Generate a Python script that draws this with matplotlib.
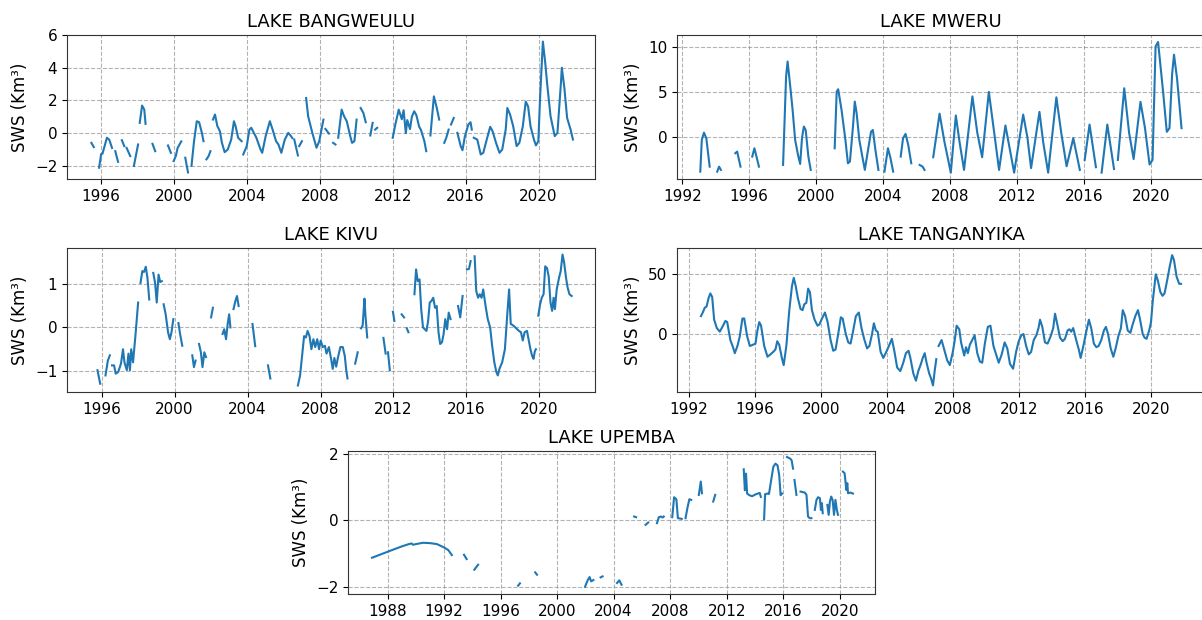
import numpy as np
import matplotlib
matplotlib.use("Agg")
import matplotlib.pyplot as plt

nan = np.nan

# Storage anomaly segments per lake: list of (year, SWS km3) pieces; gaps between pieces
bangweulu = [
    [(1995.47, -0.59), (1995.6, -0.85)],
    [(1995.89, -2.11), (1996.0, -1.3)],
    [(1996.08, -1.24), (1996.32, -0.28), (1996.45, -0.4), (1996.6, -0.9)],
    [(1996.78, -1.1), (1996.93, -1.75)],
    [(1997.14, -0.43), (1997.27, -0.79)],
    [(1997.4, -0.9), (1997.6, -1.4)],
    [(1997.8, -2.0), (1998.03, -0.69)],
    [(1998.12, 0.63), (1998.25, 1.69), (1998.37, 1.44), (1998.44, 0.57)],
    [(1998.82, -0.65), (1998.97, -1.1)],
    [(1999.67, -0.75), (1999.83, -1.2)],
    [(1999.98, -1.7), (2000.1, -1.4), (2000.2, -0.9), (2000.3, -0.7), (2000.4, -0.5)],
    [(2000.62, -1.5), (2000.77, -2.4)],
    [(2000.96, -2.0), (2001.1, -0.49), (2001.25, 0.73), (2001.38, 0.67), (2001.53, 0.02), (2001.62, -0.49)],
    [(2001.78, -1.6), (2001.9, -1.4), (2002.0, -1.1)],
    [(2002.14, 0.83), (2002.25, 1.14), (2002.38, 0.43), (2002.52, 0.12), (2002.63, -0.59), (2002.78, -1.16),
     (2002.95, -1.0), (2003.14, -0.39), (2003.29, 0.73), (2003.38, 0.43), (2003.52, -0.28), (2003.71, -0.49)],
    [(2003.8, -1.3), (2003.99, -0.79), (2004.14, 0.22), (2004.24, 0.33), (2004.52, -0.28), (2004.75, -1.0),
     (2004.84, -1.2), (2005.03, -0.18), (2005.26, 0.73), (2005.41, 0.22), (2005.6, -0.49), (2005.73, -0.69),
     (2005.89, -1.2), (2006.08, -0.39), (2006.27, 0.02), (2006.42, -0.18), (2006.49, -0.3)],
    [(2006.6, -0.39), (2006.8, -1.36)],
    [(2006.87, -0.79), (2007.02, -0.49)],
    [(2007.25, 2.15), (2007.36, 1.04), (2007.59, 0.02), (2007.82, -0.89), (2007.97, -0.49), (2008.2, 0.83)],
    [(2008.31, 0.26), (2008.5, -0.02)],
    [(2008.73, -0.59), (2008.86, -0.69)],
    [(2009.01, -0.28), (2009.2, 1.44), (2009.33, 1.04), (2009.48, 0.73), (2009.67, -0.18), (2009.77, -0.59),
     (2009.9, -0.49), (2010.02, 0.83)],
    [(2010.24, 1.54), (2010.39, 1.24), (2010.52, 0.67)],
    [(2010.77, -0.14), (2010.9, 0.63)],
    [(2011.04, 0.22), (2011.15, 0.33)],
    [(2012.0, -0.28), (2012.14, 0.5), (2012.33, 1.44), (2012.5, 0.85), (2012.6, 1.4), (2012.72, 0.0),
     (2012.8, 0.8), (2012.95, 0.25), (2013.05, 1.0), (2013.18, 1.34), (2013.3, 1.1), (2013.45, 0.4),
     (2013.55, 0.2), (2013.74, -0.5), (2013.84, -1.1)],
    [(2014.07, -0.14), (2014.26, 2.25), (2014.42, 1.54), (2014.55, 0.83)],
    [(2014.83, -0.59), (2014.94, -0.28), (2015.07, 0.22)],
    [(2015.2, 0.53), (2015.35, 0.93)],
    [(2015.55, 0.02), (2015.73, -0.79), (2015.83, -1.04), (2015.96, -0.2), (2016.15, 0.53), (2016.27, 0.67),
     (2016.34, 0.22)],
    [(2016.45, -0.28), (2016.64, -0.39), (2016.83, -1.3), (2016.97, -1.2), (2017.16, -0.39), (2017.35, 0.39),
     (2017.48, 0.12), (2017.67, -0.59), (2017.86, -1.2), (2018.01, -1.0), (2018.2, 0.22), (2018.29, 1.54),
     (2018.44, 1.14), (2018.61, 0.43), (2018.8, -0.79), (2018.95, -0.59), (2019.14, 0.43), (2019.3, 1.93),
     (2019.43, 1.63), (2019.56, 0.43), (2019.75, -0.39), (2019.86, -0.75), (2019.99, -0.49), (2020.09, 2.25),
     (2020.24, 5.6), (2020.37, 4.3), (2020.47, 3.07), (2020.66, 1.04), (2020.89, -0.18), (2021.04, 0.02),
     (2021.23, 3.07), (2021.28, 4.0), (2021.42, 2.76), (2021.57, 0.93), (2021.76, 0.22), (2021.89, -0.39)],
]

mweru = [
    [(1993.08, -3.79), (1993.17, -0.29), (1993.3, 0.51), (1993.44, -0.11), (1993.64, -3.24)],
    [(1994.09, -3.79), (1994.2, -3.24), (1994.31, -3.6)],
    [(1995.17, -1.76), (1995.28, -1.58), (1995.48, -3.24)],
    [(1996.18, -2.13), (1996.31, -1.21), (1996.58, -3.24)],
    [(1998.02, -3.05), (1998.2, 6.69), (1998.29, 8.35), (1998.47, 5.22), (1998.59, 3.0), (1998.74, -0.3),
     (1998.92, -2.02), (1999.04, -2.94), (1999.15, -0.07), (1999.26, 1.18), (1999.37, 0.8), (1999.53, -2.13),
     (1999.67, -3.6)],
    [(2001.1, -1.21), (2001.22, 5.04), (2001.31, 5.29), (2001.51, 3.01), (2001.74, -0.29), (2001.89, -2.87),
     (2002.01, -2.68), (2002.19, 1.14), (2002.3, 3.93), (2002.41, 2.65), (2002.57, -0.29), (2002.75, -2.13),
     (2002.9, -3.6), (2003.09, -1.4), (2003.27, 0.62), (2003.38, 0.8), (2003.53, -1.4), (2003.71, -3.6)],
    [(2004.07, -3.79), (2004.28, -1.21), (2004.43, -2.3), (2004.59, -3.79)],
    [(2005.04, -2.13), (2005.18, -0.11), (2005.33, 0.37), (2005.49, -0.85), (2005.67, -2.87)],
    [(2006.17, -3.05), (2006.35, -3.24), (2006.46, -3.6)],
    [(2006.98, -2.2), (2007.36, 2.6), (2007.65, -0.5), (2008.03, -3.9), (2008.33, 2.4), (2008.55, -0.5),
     (2008.82, -3.6), (2009.32, 4.5), (2009.61, 0.5), (2009.9, -2.2), (2010.3, 5.0), (2010.62, 0.5),
     (2010.91, -3.6), (2011.29, 1.3), (2011.81, -3.9), (2012.35, 2.5), (2012.6, 0.0), (2012.82, -3.4),
     (2013.32, 2.8), (2013.54, -0.5), (2013.84, -3.9), (2014.33, 4.4), (2014.62, 0.5), (2014.94, -3.2),
     (2015.34, -0.1), (2015.73, -3.6)],
    [(2016.02, -2.5), (2016.31, 1.4), (2016.69, -3.3)],
    [(2017.03, -3.9), (2017.37, 1.4), (2017.77, -3.5)],
    [(2018.0, -2.5), (2018.38, 5.4), (2018.67, 0.5), (2018.94, -2.4), (2019.35, 3.9), (2019.62, 1.0),
     (2019.89, -3.0), (2020.07, -2.5), (2020.25, 10.0), (2020.4, 10.5), (2020.7, 5.0), (2020.92, 0.6),
     (2021.08, 1.0), (2021.24, 7.0), (2021.35, 9.1), (2021.53, 6.5), (2021.8, 1.0)],
]

kivu = [
    [(1995.77, -0.98), (1995.92, -1.29)],
    [(1996.21, -1.1), (1996.34, -0.76), (1996.45, -0.64)],
    [(1996.57, -0.87), (1996.68, -0.87), (1996.77, -1.06), (1996.91, -1.02), (1997.06, -0.83), (1997.17, -0.5),
     (1997.25, -0.8), (1997.38, -0.98), (1997.47, -0.6), (1997.55, -0.98), (1997.62, -0.5), (1997.72, -0.8),
     (1997.85, -0.2), (1998.0, 0.57)],
    [(1998.13, 1.02), (1998.23, 1.29), (1998.32, 1.27), (1998.42, 1.39), (1998.51, 1.14), (1998.61, 0.64)],
    [(1998.83, 1.25), (1998.93, 1.02), (1999.02, 0.57), (1999.12, 1.21), (1999.21, 1.04), (1999.3, 1.06)],
    [(1999.4, 0.53), (1999.51, 0.3), (1999.64, -0.11), (1999.74, -0.27), (1999.83, -0.11), (1999.93, 0.19)],
    [(2000.21, 0.1), (2000.3, -0.15), (2000.42, -0.42)],
    [(2000.97, -0.64), (2001.06, -0.91), (2001.15, -0.76)],
    [(2001.34, -0.38), (2001.44, -0.57), (2001.53, -0.91), (2001.63, -0.57), (2001.72, -0.68)],
    [(2002.0, 0.23), (2002.1, 0.45)],
    [(2002.63, -0.15), (2002.72, -0.04), (2002.82, -0.27), (2002.91, 0.08), (2002.99, 0.3), (2003.06, 0.0)],
    [(2003.23, 0.42), (2003.33, 0.6), (2003.42, 0.72), (2003.51, 0.49)],
    [(2004.27, 0.08), (2004.42, -0.43)],
    [(2005.12, -0.87), (2005.25, -1.17)],
    [(2006.76, -1.33), (2006.88, -1.1), (2007.01, -0.57), (2007.1, -0.2), (2007.2, -0.23), (2007.29, -0.08),
     (2007.4, -0.2), (2007.5, -0.5), (2007.61, -0.27), (2007.71, -0.45), (2007.82, -0.27), (2007.92, -0.5),
     (2008.01, -0.3), (2008.12, -0.45), (2008.24, -0.42), (2008.33, -0.6), (2008.46, -0.45), (2008.58, -0.72),
     (2008.67, -0.95), (2008.76, -0.7), (2008.86, -0.9), (2008.95, -0.7), (2009.09, -0.45), (2009.22, -0.45),
     (2009.33, -0.65), (2009.41, -0.98), (2009.48, -1.17)],
    [(2009.9, -0.83), (2010.04, -0.57)],
    [(2010.22, -0.02), (2010.31, 0.04), (2010.41, 0.66), (2010.46, 0.3), (2010.56, -0.23)],
    [(2011.45, -0.24), (2011.57, -0.6)],
    [(2011.7, -0.57), (2011.8, -0.98)],
    [(2011.97, 0.36), (2012.05, 0.15)],
    [(2012.45, 0.3), (2012.58, 0.23)],
    [(2012.73, -0.02), (2012.82, -0.11)],
    [(2013.15, 0.76), (2013.24, 1.33), (2013.33, 1.06), (2013.43, 1.1), (2013.52, 0.42), (2013.62, 0.0),
     (2013.71, -0.04), (2013.81, -0.08), (2013.9, 0.15), (2013.99, 0.57), (2014.09, 0.61), (2014.18, 0.68),
     (2014.28, 0.45), (2014.37, 0.49), (2014.47, -0.11), (2014.56, -0.38), (2014.66, -0.34), (2014.75, -0.15),
     (2014.84, 0.19), (2014.94, -0.04), (2015.03, 0.34), (2015.13, 0.19)],
    [(2015.54, 0.49), (2015.66, 0.23), (2015.79, 0.72)],
    [(2016.03, 1.33), (2016.14, 1.34), (2016.23, 1.52)],
    [(2016.45, 1.63), (2016.54, 0.83), (2016.64, 0.68), (2016.73, 0.76), (2016.83, 0.68), (2016.92, 0.87),
     (2017.05, 0.49), (2017.17, 0.19), (2017.3, 0.0), (2017.41, -0.42), (2017.53, -0.8), (2017.64, -1.02),
     (2017.72, -1.1), (2017.81, -0.95), (2017.96, -0.8), (2018.11, -0.5), (2018.24, 0.3), (2018.34, 0.87),
     (2018.43, 0.08), (2018.58, 0.04), (2018.73, -0.02), (2018.88, -0.08), (2018.99, -0.11), (2019.09, -0.3),
     (2019.19, -0.11), (2019.32, -0.08), (2019.42, -0.3), (2019.51, -0.5), (2019.6, -0.65), (2019.68, -0.72),
     (2019.75, -0.55), (2019.81, -0.5)],
    [(2019.94, 0.27), (2020.04, 0.53), (2020.13, 0.68), (2020.23, 0.76), (2020.32, 1.4), (2020.42, 1.36),
     (2020.51, 1.17), (2020.61, 0.57), (2020.7, 0.38), (2020.78, 0.68), (2020.85, 0.42), (2020.95, 0.87),
     (2021.08, 1.14), (2021.17, 1.29), (2021.27, 1.67), (2021.36, 1.48), (2021.46, 1.14), (2021.55, 0.91),
     (2021.65, 0.76), (2021.77, 0.72)],
]

tanganyika = [
    [(1992.75, 15), (1992.86, 18), (1992.98, 22), (1993.09, 23), (1993.21, 30), (1993.32, 34), (1993.43, 31),
     (1993.55, 12), (1993.71, 5), (1993.89, 2), (1994.05, 6), (1994.23, 11), (1994.34, 10), (1994.53, -5),
     (1994.69, -11), (1994.8, -16), (1994.96, -10), (1995.1, -2), (1995.26, 13), (1995.37, 13), (1995.55, -2),
     (1995.71, -10), (1995.89, -9), (1996.05, -8), (1996.17, 3), (1996.28, 10), (1996.39, 7), (1996.58, -10),
     (1996.78, -19), (1996.96, -17), (1997.12, -15), (1997.26, -13), (1997.37, -6), (1997.49, -9),
     (1997.65, -20), (1997.76, -26), (1997.92, -10), (1998.1, 20), (1998.26, 40), (1998.37, 47), (1998.49, 40),
     (1998.62, 30), (1998.78, 21), (1998.9, 20), (1999.01, 25), (1999.13, 26), (1999.24, 38), (1999.35, 35),
     (1999.47, 20), (1999.63, 12), (1999.81, 7), (1999.92, 8), (2000.08, 13), (2000.26, 18), (2000.42, 10),
     (2000.6, -5), (2000.76, -14), (2000.9, -13), (2001.06, 0), (2001.22, 14), (2001.33, 13), (2001.52, 0),
     (2001.67, -7), (2001.81, -8), (2001.97, 3), (2002.13, 15), (2002.31, 18), (2002.47, 5), (2002.65, -5),
     (2002.81, -12), (2002.95, -10), (2003.11, 0), (2003.22, 9), (2003.34, 3), (2003.45, 2), (2003.63, -15),
     (2003.79, -20), (2003.97, -15), (2004.13, -10), (2004.31, -4), (2004.47, -15), (2004.63, -28),
     (2004.82, -31), (2005.0, -24), (2005.16, -16), (2005.32, -14), (2005.43, -20), (2005.61, -33),
     (2005.77, -39), (2005.91, -31), (2006.07, -25), (2006.18, -20), (2006.3, -16), (2006.41, -24),
     (2006.57, -33), (2006.68, -37), (2006.8, -43), (2006.91, -30), (2007.0, -21)],
    [(2007.14, -10), (2007.32, -5), (2007.48, -13), (2007.66, -22), (2007.82, -26), (2008.0, -15),
     (2008.12, -5), (2008.23, 7), (2008.39, 4), (2008.5, -7), (2008.69, -18), (2008.8, -11), (2008.91, -16),
     (2009.03, -9), (2009.14, -6), (2009.32, -1), (2009.48, -16), (2009.64, -23), (2009.78, -24),
     (2009.94, -8), (2010.12, 6), (2010.28, 7), (2010.46, -10), (2010.62, -17), (2010.78, -24),
     (2010.96, -17), (2011.14, -7), (2011.3, -12), (2011.46, -25), (2011.65, -29), (2011.83, -15),
     (2011.99, -6), (2012.15, -1), (2012.28, 0), (2012.44, -10), (2012.6, -17), (2012.74, -15), (2012.9, -5),
     (2013.06, -1), (2013.19, 5), (2013.28, 12), (2013.42, 6), (2013.58, -7), (2013.74, -8), (2013.92, -2),
     (2014.08, 5), (2014.19, 17), (2014.33, 8), (2014.49, -3), (2014.65, -6), (2014.79, -4), (2014.95, 3),
     (2015.06, 4), (2015.17, 2), (2015.29, 5), (2015.47, -5), (2015.63, -13), (2015.74, -20), (2015.92, -9),
     (2016.08, 2), (2016.24, 12), (2016.38, 5), (2016.54, -8), (2016.69, -11), (2016.83, -10), (2016.99, -5),
     (2017.15, 3), (2017.27, 6), (2017.4, 0), (2017.56, -12), (2017.72, -19), (2017.86, -12), (2018.02, -2),
     (2018.18, 5), (2018.29, 20), (2018.43, 15), (2018.59, 3), (2018.75, 1), (2018.89, 8), (2019.05, 15),
     (2019.21, 20), (2019.34, 12), (2019.5, 0), (2019.61, -3), (2019.73, -4), (2019.89, 3), (2020.0, 10),
     (2020.11, 28), (2020.29, 50), (2020.41, 45), (2020.57, 35), (2020.7, 32), (2020.82, 34), (2020.98, 45),
     (2021.14, 57), (2021.28, 66), (2021.39, 62), (2021.55, 48), (2021.71, 42), (2021.82, 42)],
]

upemba = [
    [(1986.9, -1.13), (1987.5, -1.03), (1988.0, -0.95), (1988.5, -0.87), (1989.0, -0.79), (1989.5, -0.72),
     (1989.7, -0.7), (1989.8, -0.74), (1990.0, -0.72), (1990.5, -0.68), (1991.0, -0.69), (1991.5, -0.72),
     (1992.0, -0.82), (1992.3, -0.9), (1992.55, -1.05)],
    [(1993.41, -1.04), (1993.6, -1.17)],
    [(1994.14, -1.49), (1994.41, -1.34)],
    [(1997.24, -1.97), (1997.37, -1.9)],
    [(1998.45, -1.57), (1998.58, -1.64)],
    [(2001.98, -2.0), (2002.17, -1.8), (2002.3, -1.71), (2002.41, -1.84), (2002.57, -1.8)],
    [(2003.08, -1.72), (2003.22, -1.69)],
    [(2004.24, -1.89), (2004.4, -1.81), (2004.56, -1.94)],
    [(2005.45, 0.11), (2005.59, 0.09)],
    [(2006.26, -0.14), (2006.45, -0.07)],
    [(2007.07, -0.09), (2007.2, 0.09), (2007.34, 0.11), (2007.47, 0.08), (2007.55, 0.11)],
    [(2008.15, 0.09), (2008.28, 0.69), (2008.44, 0.63), (2008.55, 0.06), (2008.82, 0.04)],
    [(2009.09, 0.06), (2009.22, 0.36), (2009.36, 0.63), (2009.49, 0.61)],
    [(2010.03, 0.76), (2010.17, 1.16), (2010.25, 0.81)],
    [(2011.05, 0.56), (2011.19, 0.76)],
    [(2013.21, 1.53), (2013.29, 0.9), (2013.37, 1.4), (2013.45, 0.8), (2013.61, 0.75), (2013.8, 0.72),
     (2014.07, 0.78), (2014.34, 0.82), (2014.42, 0.7)],
    [(2014.65, 0.03), (2014.72, 0.78), (2014.9, 0.8)],
    [(2015.0, 0.8), (2015.15, 1.2), (2015.3, 1.6), (2015.45, 1.7), (2015.6, 1.65), (2015.72, 1.35),
     (2015.82, 0.75), (2015.92, 0.8)],
    [(2016.27, 1.9), (2016.5, 1.85), (2016.6, 1.8), (2016.7, 1.55)],
    [(2016.8, 1.21), (2016.94, 0.76)],
    [(2017.23, 0.86), (2017.53, 0.83), (2017.65, 0.76), (2017.76, 0.11), (2017.88, 0.06), (2018.0, 0.06)],
    [(2018.24, 0.31), (2018.36, 0.61), (2018.47, 0.69), (2018.6, 0.66), (2018.67, 0.31), (2018.74, 0.51),
     (2018.8, 0.21)],
    [(2019.13, 0.46), (2019.22, 0.16), (2019.31, 0.56), (2019.4, 0.71), (2019.5, 0.61), (2019.6, 0.16),
     (2019.7, 0.61), (2019.8, 0.31), (2019.88, 0.16)],
    [(2020.23, 1.46), (2020.35, 1.41), (2020.47, 0.91), (2020.54, 1.11), (2020.59, 0.81), (2020.76, 0.83),
     (2020.94, 0.8)],
]

titles = ["LAKE BANGWEULU", "LAKE MWERU", "LAKE KIVU", "LAKE TANGANYIKA", "LAKE UPEMBA"]
year_ticks = [
    range(1996, 2021, 4),
    range(1992, 2021, 4),
    range(1996, 2021, 4),
    range(1992, 2021, 4),
    range(1988, 2021, 4),
]
y_ticks = [[-2, 0, 2, 4, 6], [0, 5, 10], [-1, 0, 1], [0, 50], [-2, 0, 2]]


def to_xy(segments):
    xs, ys = [], []
    for seg in segments:
        for x, y in seg:
            xs.append(x)
            ys.append(y)
        xs.append(nan)
        ys.append(nan)
    return np.array(xs), np.array(ys)


W, H = 1202, 620
fig = plt.figure(figsize=(W / 100, H / 100), dpi=100)

# axes boxes in pixels: left, top, right, bottom
boxes = [
    (67, 35, 595, 179),
    (677, 35, 1205, 179),
    (67, 248, 595, 392),
    (677, 248, 1205, 392),
    (348, 451, 875, 594),
]
xlims = [(1994.13, 2023.1), (1991.69, 2023.2), (1994.1, 2023.05), (1991.3, 2023.27), (1985.2, 2022.5)]
ylims = [(-2.8, 6.0), (-4.6, 11.27), (-1.48, 1.82), (-48.5, 72), (-2.22, 2.08)]

lakes = [bangweulu, mweru, kivu, tanganyika, upemba]

for i, segs in enumerate(lakes):
    l, t, r, b = boxes[i]
    ax = fig.add_axes([l / W, (H - b) / H, (r - l) / W, (b - t) / H])
    x, y = to_xy(segs)
    ax.plot(x, y, color="#1f77b4", linewidth=1.5)
    ax.set_xlim(*xlims[i])
    ax.set_ylim(*ylims[i])
    ax.set_xticks(list(year_ticks[i]))
    ax.set_xticklabels([str(v) for v in year_ticks[i]])
    ax.set_yticks(y_ticks[i])
    ax.tick_params(labelsize=11)
    ax.grid(True, linestyle="--", color="gray", alpha=0.6, linewidth=0.8)
    ax.set_title(titles[i], fontsize=13)
    if i != 2:
        ax.set_ylabel("SWS (Km³)", fontsize=12)
    else:
        ax.set_ylabel("SWS (Km³)", fontsize=12)
    for sp in ax.spines.values():
        sp.set_color("#333333")

fig.savefig("out.png", dpi=100)
